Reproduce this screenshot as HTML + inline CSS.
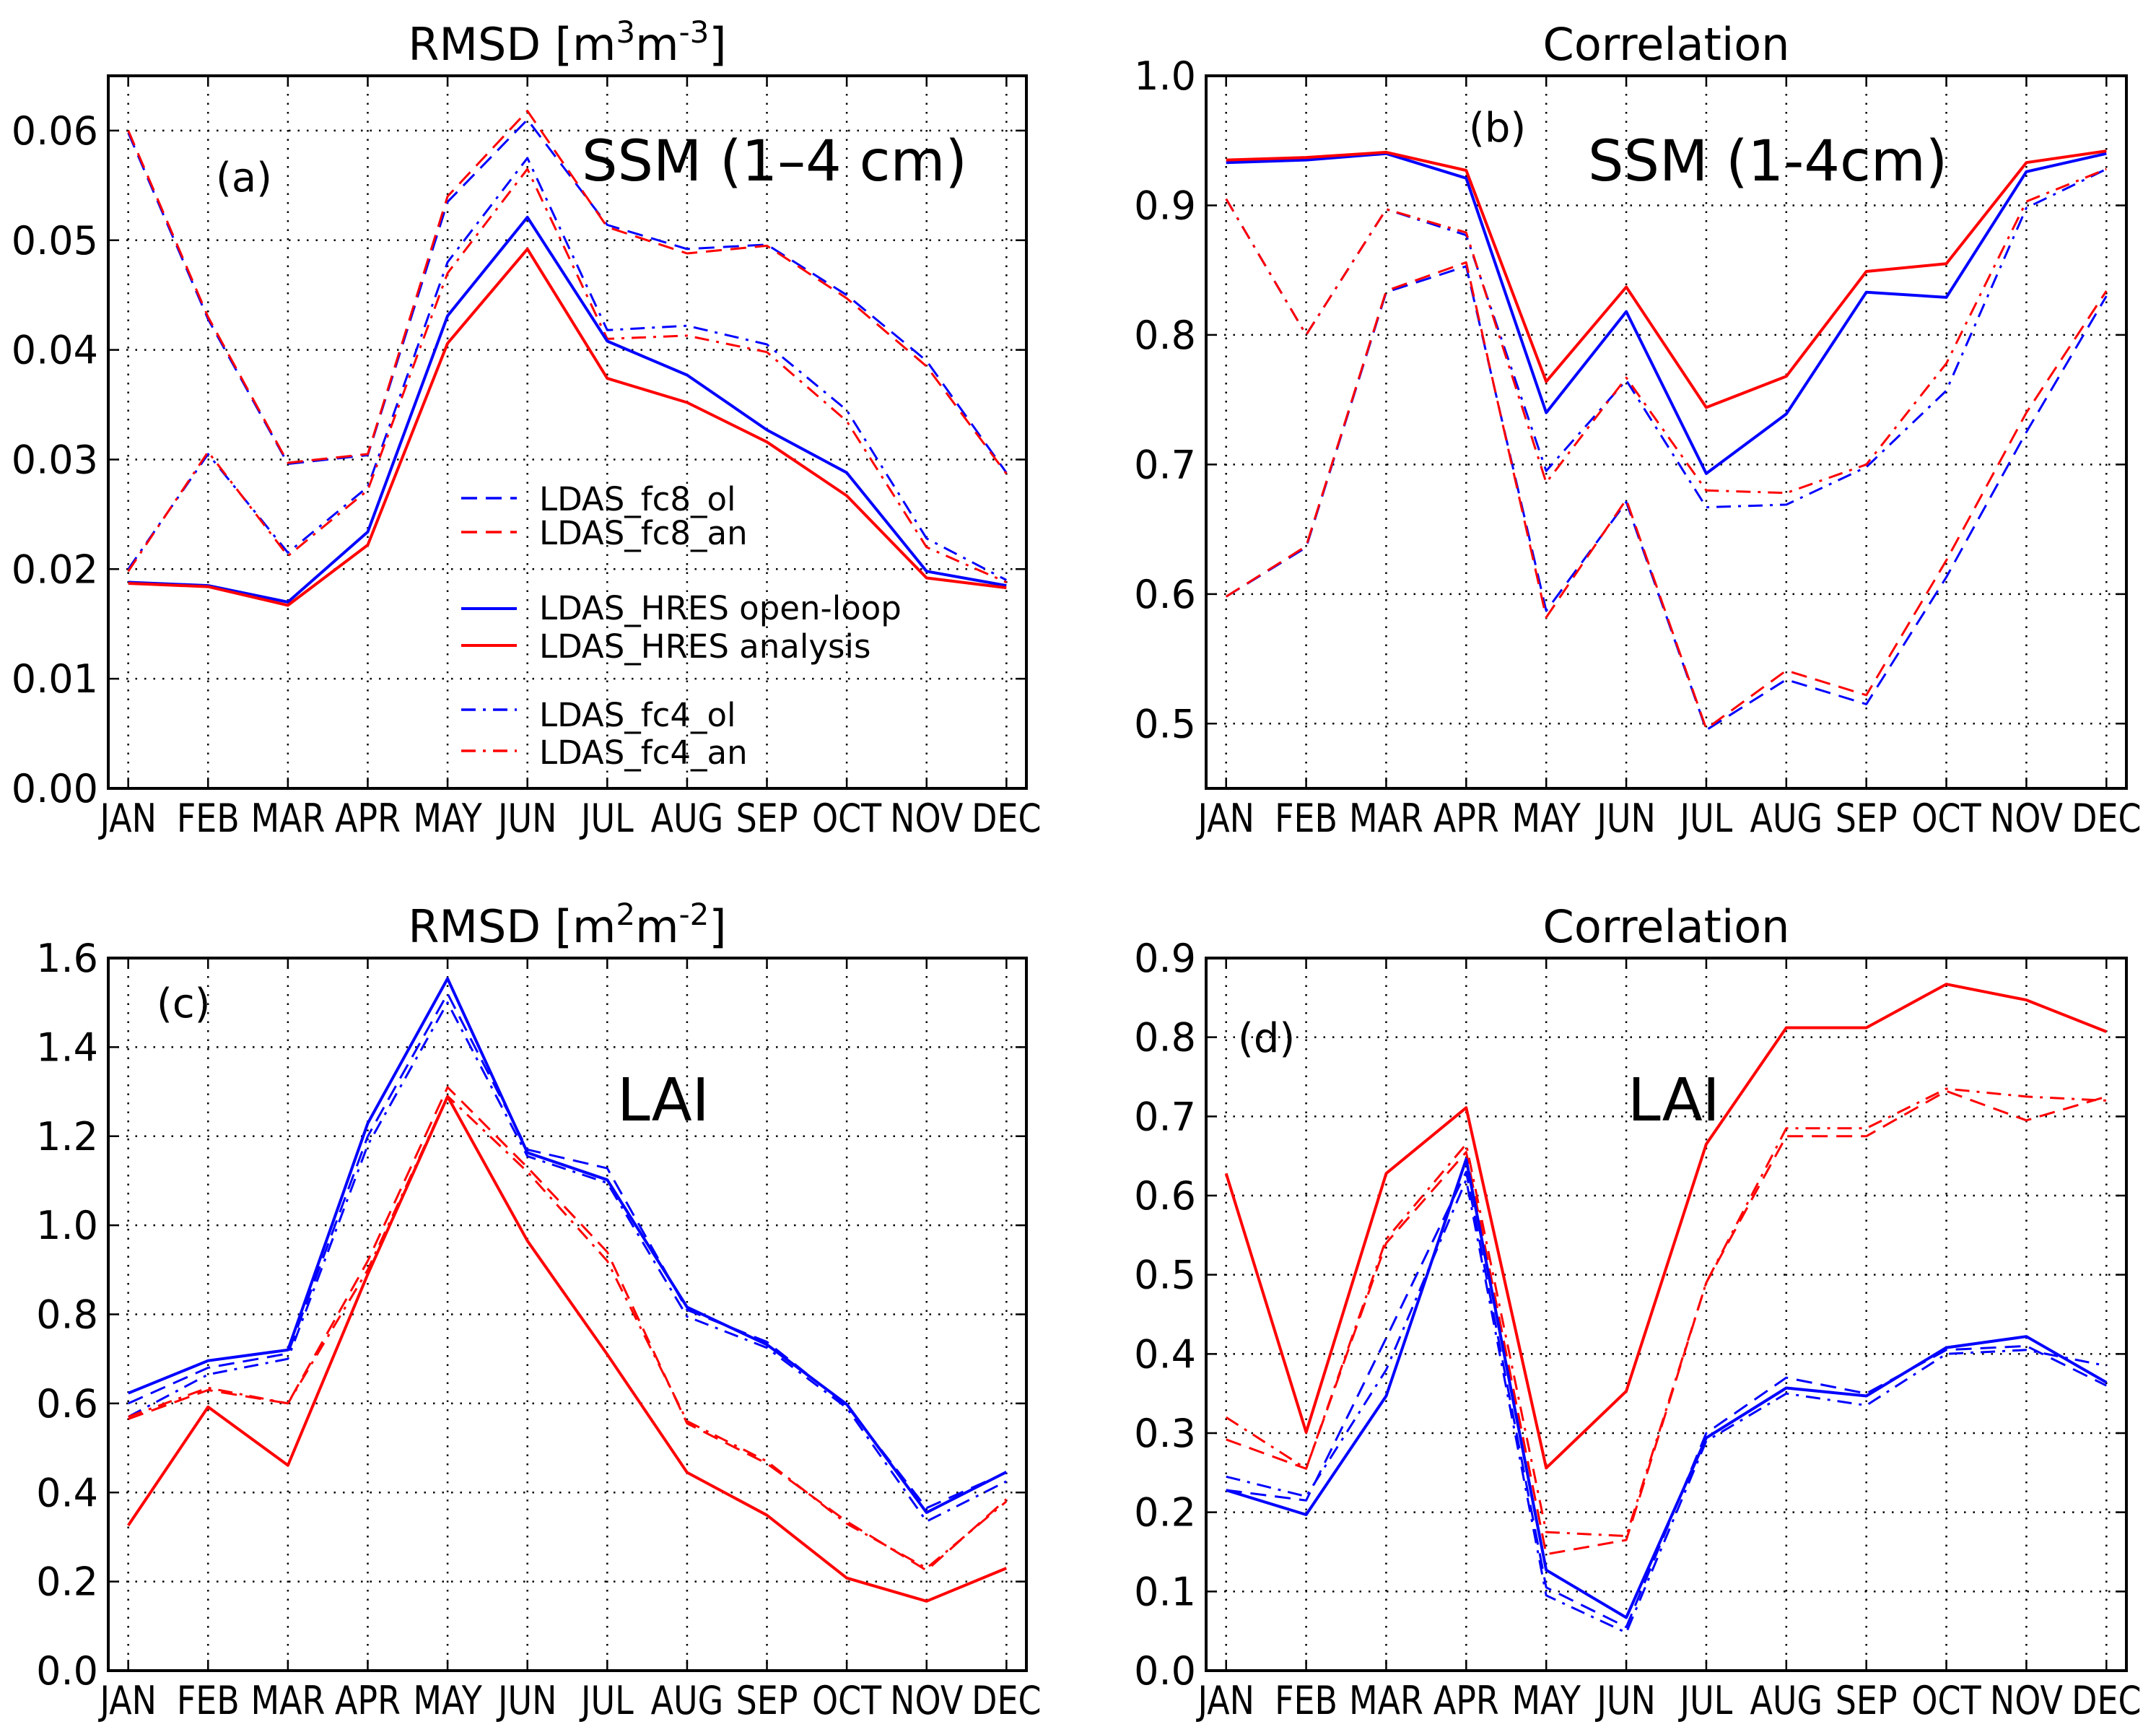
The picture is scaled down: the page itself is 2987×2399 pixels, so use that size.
<!DOCTYPE html>
<html><head><meta charset="utf-8">
<style>
html,body{margin:0;padding:0;background:#fff;}
svg{display:block;font-family:"DejaVu Sans","Liberation Sans",sans-serif;}
</style></head>
<body>
<svg id="fig" xmlns="http://www.w3.org/2000/svg" width="2987" height="2399" viewBox="0 0 2987 2399">
<rect width="2987" height="2399" fill="#fff"/>
</svg>
<script>
const months = ["JAN","FEB","MAR","APR","MAY","JUN","JUL","AUG","SEP","OCT","NOV","DEC"];
// Panel a: SSM RMSD
const a_hres_ol = [.0188,.0185,.0170,.0234,.0431,.0521,.0408,.0377,.0327,.0288,.0198,.0185];
const a_hres_an = [.0187,.0184,.0167,.0222,.0406,.0492,.0374,.0352,.0316,.0267,.0192,.0183];
const a_fc8_ol = [.0598,.0428,.0296,.0304,.0535,.0610,.0514,.0492,.0496,.0450,.0390,.0288];
const a_fc8_an = [.0600,.0430,.0297,.0305,.0540,.0618,.0512,.0488,.0495,.0447,.0385,.0287];
const a_fc4_ol = [.0200,.0305,.0215,.0275,.0480,.0575,.0418,.0422,.0405,.0345,.0228,.0190];
const a_fc4_an = [.0198,.0307,.0212,.0272,.0470,.0565,.0410,.0413,.0398,.0335,.0220,.0188];
const a_ticks = ["0.00","0.01","0.02","0.03","0.04","0.05","0.06"];
// Panel b: SSM correlation
const b_hres_an = [.935,.937,.941,.927,.764,.837,.744,.768,.849,.855,.933,.942];
const b_hres_ol = [.933,.935,.940,.921,.740,.818,.693,.739,.833,.829,.926,.940];
const b_fc8_an = [.598,.637,.834,.856,.582,.673,.496,.541,.522,.626,.740,.834];
const b_fc8_ol = [.598,.636,.833,.853,.587,.671,.495,.534,.515,.613,.725,.830];
const b_fc4_an = [.905,.800,.897,.879,.686,.767,.680,.678,.700,.778,.903,.928];
const b_fc4_ol = [.905,.800,.897,.877,.695,.765,.667,.669,.698,.757,.898,.928];
const b_ticks = ["0.5","0.6","0.7","0.8","0.9","1.0"];
// Panel c: LAI RMSD
const c_hres_ol = [.623,.696,.720,1.229,1.554,1.163,1.102,.816,.732,.598,.355,.446];
const c_hres_an = [.326,.592,.461,.890,1.289,.965,.710,.445,.349,.208,.156,.230];
const c_fc8_ol = [.600,.680,.712,1.20,1.52,1.170,1.128,.810,.738,.595,.365,.445];
const c_fc4_ol = [.570,.665,.700,1.18,1.50,1.155,1.095,.795,.725,.590,.335,.425];
const c_fc8_an = [.565,.630,.600,.92,1.31,1.13,.94,.555,.465,.335,.225,.385];
const c_fc4_an = [.570,.635,.600,.90,1.29,1.12,.92,.560,.470,.330,.230,.380];
const c_ticks = ["0.0","0.2","0.4","0.6","0.8","1.0","1.2","1.4","1.6"];
// Panel d: LAI correlation
const d_hres_an = [.628,.301,.628,.711,.256,.353,.665,.812,.812,.867,.847,.807];
const d_hres_ol = [.228,.197,.347,.646,.127,.067,.294,.357,.347,.408,.422,.364];
const d_fc8_an = [.292,.255,.540,.655,.147,.165,.490,.675,.675,.732,.695,.725];
const d_fc4_an = [.320,.255,.545,.665,.175,.170,.490,.685,.685,.735,.725,.720];
const d_fc8_ol = [.228,.215,.420,.630,.105,.055,.300,.370,.350,.405,.410,.360];
const d_fc4_ol = [.245,.220,.380,.620,.095,.048,.290,.350,.335,.400,.405,.385];
const d_ticks = ["0.0","0.1","0.2","0.3","0.4","0.5","0.6","0.7","0.8","0.9"];

const NS="http://www.w3.org/2000/svg";
const svg=document.getElementById('fig');
function mk(tag,attrs,parent){const e=document.createElementNS(NS,tag);for(const k in attrs)e.setAttribute(k,attrs[k]);(parent||svg).appendChild(e);return e;}
const DASH={solid:null,dashed:"22,12",dashdot:"20,10,4,10"};
const TICKFS=54;

function panel(id,box,ymin,ymax,ticks,series,title,tag,tagPos,label,labelPos,labelSize){
  const g=mk('g',{});
  
  
  const L=box[0],R=box[1],T=box[2],B=box[3];
  const xs=i=>L+(i+0.25)*(R-L)/11.5;
  const ys=v=>B-(v-ymin)/(ymax-ymin)*(B-T);
  months.forEach((m,i)=>{
    const ln=mk('line',{x1:xs(i),x2:xs(i),y1:T,y2:B,stroke:'#000','stroke-width':2.5,'stroke-dasharray':'2.5,10'},g);
    
    
  });
  ticks.forEach(t=>{
    const y=ys(parseFloat(t));
    if(y>T+1&&y<B-1){
      const ln=mk('line',{x1:L,x2:R,y1:y,y2:y,stroke:'#000','stroke-width':2.5,'stroke-dasharray':'2.5,10'},g);
      
      
    }
    const tk=mk('path',{d:`M${L},${y}h15M${R},${y}h-15`,stroke:'#000','stroke-width':2.5},g);
    
    
    const tx=mk('text',{x:L-14,y:y+19,'text-anchor':'end','font-size':TICKFS},g);
    tx.textContent=t;
    
    
  });
  months.forEach((m,i)=>{
    const tk=mk('path',{d:`M${xs(i)},${B}v-15M${xs(i)},${T}v15`,stroke:'#000','stroke-width':2.5},g);
    
    
    const tx=mk('text',{x:0,y:0,'text-anchor':'middle','font-size':TICKFS,transform:`translate(${xs(i).toFixed(1)},${B+60}) scale(0.85,1)`},g);
    tx.textContent=m;
    
    
  });
  series.forEach(s=>{
    const d=s.v.map((v,i)=>(i?'L':'M')+xs(i).toFixed(1)+','+ys(v).toFixed(1)).join('');
    const a={d:d,fill:'none',stroke:s.c,'stroke-width':s.s==='solid'?4:3,'stroke-linejoin':'round'};
    if(DASH[s.s])a['stroke-dasharray']=DASH[s.s];
    const p=mk('path',a,g);
    
    
  });
  const fr=mk('rect',{x:L,y:T,width:R-L,height:B-T,fill:'none',stroke:'#000','stroke-width':4},g);
  
  
  const ti=mk('text',{x:(L+R)/2,y:T-22,'text-anchor':'middle','font-size':62},g);
  ti.innerHTML=title;
  
  
  const tg=mk('text',{x:tagPos[0],y:tagPos[1],'font-size':56},g);
  tg.textContent=tag;
  
  
  const lb=mk('text',{x:labelPos[0],y:labelPos[1],'font-size':labelSize},g);
  lb.textContent=label;
  
  
}
const B='#0000ff',Rd='#ff0000';
const sup3='RMSD [m<tspan dy="-24" font-size="42">3</tspan><tspan dy="24">m</tspan><tspan dy="-24" font-size="42">-3</tspan><tspan dy="24">]</tspan>';
const sup2='RMSD [m<tspan dy="-24" font-size="42">2</tspan><tspan dy="24">m</tspan><tspan dy="-24" font-size="42">-2</tspan><tspan dy="24">]</tspan>';
panel('a',[150,1422,105,1092],0,0.065,a_ticks,[
 {n:'fc8-ol',v:a_fc8_ol,c:B,s:'dashed'},{n:'fc8-an',v:a_fc8_an,c:Rd,s:'dashed'},
 {n:'fc4-ol',v:a_fc4_ol,c:B,s:'dashdot'},{n:'fc4-an',v:a_fc4_an,c:Rd,s:'dashdot'},
 {n:'hres-ol',v:a_hres_ol,c:B,s:'solid'},{n:'hres-an',v:a_hres_an,c:Rd,s:'solid'}],
 sup3,'(a)',[299,265],'SSM (1–4 cm)',[806,250],78);
panel('b',[1671,2946,105,1092],0.45,1.0,b_ticks,[
 {n:'fc8-ol',v:b_fc8_ol,c:B,s:'dashed'},{n:'fc8-an',v:b_fc8_an,c:Rd,s:'dashed'},
 {n:'fc4-ol',v:b_fc4_ol,c:B,s:'dashdot'},{n:'fc4-an',v:b_fc4_an,c:Rd,s:'dashdot'},
 {n:'hres-ol',v:b_hres_ol,c:B,s:'solid'},{n:'hres-an',v:b_hres_an,c:Rd,s:'solid'}],
 'Correlation','(b)',[2035,196],'SSM (1-4cm)',[2200,250],78);
panel('c',[150,1422,1327,2314],0,1.6,c_ticks,[
 {n:'fc8-ol',v:c_fc8_ol,c:B,s:'dashed'},{n:'fc8-an',v:c_fc8_an,c:Rd,s:'dashed'},
 {n:'fc4-ol',v:c_fc4_ol,c:B,s:'dashdot'},{n:'fc4-an',v:c_fc4_an,c:Rd,s:'dashdot'},
 {n:'hres-ol',v:c_hres_ol,c:B,s:'solid'},{n:'hres-an',v:c_hres_an,c:Rd,s:'solid'}],
 sup2,'(c)',[217,1409],'LAI',[855,1552],82);
panel('d',[1671,2946,1327,2314],0,0.9,d_ticks,[
 {n:'fc8-ol',v:d_fc8_ol,c:B,s:'dashed'},{n:'fc8-an',v:d_fc8_an,c:Rd,s:'dashed'},
 {n:'fc4-ol',v:d_fc4_ol,c:B,s:'dashdot'},{n:'fc4-an',v:d_fc4_an,c:Rd,s:'dashdot'},
 {n:'hres-ol',v:d_hres_ol,c:B,s:'solid'},{n:'hres-an',v:d_hres_an,c:Rd,s:'solid'}],
 'Correlation','(d)',[1715,1457],'LAI',[2255,1552],82);

const leg=[['LDAS_fc8_ol',B,'dashed',690,707],['LDAS_fc8_an',Rd,'dashed',737,754],
 ['LDAS_HRES open-loop',B,'solid',843,858],['LDAS_HRES analysis',Rd,'solid',894,911],
 ['LDAS_fc4_ol',B,'dashdot',983,1006],['LDAS_fc4_an',Rd,'dashdot',1040,1058]];
const lg=mk('g',{});


leg.forEach(e=>{
  const a={x1:639,x2:716,y1:e[3],y2:e[3],stroke:e[1],'stroke-width':e[2]==='solid'?4:3.5};
  if(DASH[e[2]])a['stroke-dasharray']=DASH[e[2]];
  const l=mk('line',a,lg);
  
  
  const t=mk('text',{x:747,y:e[4],'font-size':45},lg);
  t.textContent=e[0];
  
  
});
</script>
</body></html>
